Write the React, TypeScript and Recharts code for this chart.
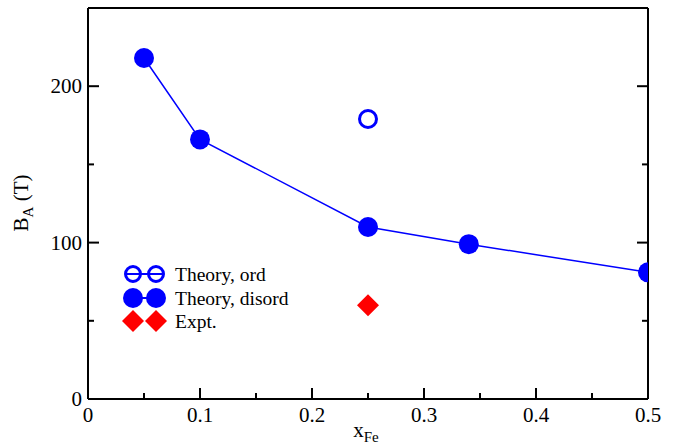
import React from "react";
import { ComposedChart, Scatter, XAxis, YAxis } from "recharts";

const xDisord = [0.05, 0.1, 0.25, 0.34, 0.5];
const bDisord = [218, 166, 110, 99, 81];
const xOrd = [0.25];
const bOrd = [179];
const xExpt = [0.25];
const bExpt = [60];

const xTicks = [0, 0.05, 0.1, 0.15, 0.2, 0.25, 0.3, 0.35, 0.4, 0.45, 0.5];
const yTicks = [0, 50, 100, 150, 200];
const legendLabels = ["Theory, ord", "Theory, disord", "Expt."];

const disordData = xDisord.map((x, i) => ({ x, y: bDisord[i] }));
const ordData = xOrd.map((x, i) => ({ x, y: bOrd[i] }));
const exptData = xExpt.map((x, i) => ({ x, y: bExpt[i] }));

const FONT = "'Liberation Serif', 'Times New Roman', serif";
const BLUE = "#0000ff";
const RED = "#ff0000";
const MAJ = 11;
const MIN = 6;

const isMajorX = (v: number) => Math.round(v * 100) % 10 === 0;
const isMajorY = (v: number) => Math.round(v) % 100 === 0;
const fmtX = (v: number) => (v === 0 ? "0" : String(Math.round(v * 10) / 10));

const BottomTick = (p: any) => {
  const v = p.payload.value;
  const major = isMajorX(v);
  return (
    <g>
      <line x1={p.x} x2={p.x} y1={p.y} y2={p.y - (major ? MAJ : MIN)} stroke="#000" strokeWidth={2} />
      {major && (
        <text x={p.x} y={p.y + 23} textAnchor="middle" fontFamily={FONT} fontSize={21} fill="#000">
          {fmtX(v)}
        </text>
      )}
    </g>
  );
};

const TopTick = (p: any) => {
  const v = p.payload.value;
  const major = isMajorX(v);
  return <line x1={p.x} x2={p.x} y1={p.y} y2={p.y + (major ? MAJ : MIN)} stroke="#000" strokeWidth={2} />;
};

const LeftTick = (p: any) => {
  const v = p.payload.value;
  const major = isMajorY(v);
  return (
    <g>
      <line x1={p.x} x2={p.x + (major ? MAJ : MIN)} y1={p.y} y2={p.y} stroke="#000" strokeWidth={2} />
      {major && (
        <text x={p.x - 6} y={p.y + 7} textAnchor="end" fontFamily={FONT} fontSize={21} fill="#000">
          {String(v)}
        </text>
      )}
    </g>
  );
};

const RightTick = (p: any) => {
  const v = p.payload.value;
  const major = isMajorY(v);
  return <line x1={p.x} x2={p.x - (major ? MAJ : MIN)} y1={p.y} y2={p.y} stroke="#000" strokeWidth={2} />;
};

const FilledCircle = (p: any) => <circle cx={p.cx} cy={p.cy} r={10} fill={BLUE} />;
const OpenCircle = (p: any) => <circle cx={p.cx} cy={p.cy} r={8.5} fill="none" stroke={BLUE} strokeWidth={3} />;
const Diamond = (p: any) => {
  const d = 11;
  return (
    <polygon
      points={`${p.cx},${p.cy - d} ${p.cx + d},${p.cy} ${p.cx},${p.cy + d} ${p.cx - d},${p.cy}`}
      fill={RED}
    />
  );
};

const YLabel = () => (
  <text
    x={28}
    y={203}
    transform="rotate(-90, 28, 203)"
    textAnchor="middle"
    fontFamily={FONT}
    fontSize={21}
    fill="#000"
  >
    B
    <tspan dy={5} fontSize={15}>A</tspan>
    <tspan dy={-5}> (T)</tspan>
  </text>
);

const XLabel = () => (
  <text x={366} y={437} textAnchor="middle" fontFamily={FONT} fontSize={21} fill="#000">
    x
    <tspan dy={5} fontSize={15}>Fe</tspan>
  </text>
);

const LegendOverlay = () => {
  const mx = [133, 156];
  const rows = [274, 298, 321];
  const d = 11;
  return (
    <svg
      width={677}
      height={448}
      style={{ position: "absolute", left: 0, top: 0, pointerEvents: "none" }}
    >
      <line x1={125} x2={164} y1={rows[0]} y2={rows[0]} stroke={BLUE} strokeWidth={2} />
      {mx.map((x) => (
        <circle key={"o" + x} cx={x} cy={rows[0]} r={7.5} fill="none" stroke={BLUE} strokeWidth={3} />
      ))}
      <line x1={mx[0]} x2={mx[1]} y1={rows[1]} y2={rows[1]} stroke={BLUE} strokeWidth={2} />
      {mx.map((x) => (
        <circle key={"f" + x} cx={x} cy={rows[1]} r={10} fill={BLUE} />
      ))}
      {mx.map((x) => (
        <polygon
          key={"d" + x}
          points={`${x},${rows[2] - d} ${x + d},${rows[2]} ${x},${rows[2] + d} ${x - d},${rows[2]}`}
          fill={RED}
        />
      ))}
      {legendLabels.map((t, i) => (
        <text key={t} x={175} y={rows[i] + 6.5} fontFamily={FONT} fontSize={19.5} fill="#000">
          {t}
        </text>
      ))}
    </svg>
  );
};

export default function App() {
  return (
    <div style={{ position: "relative", width: 677, height: 448, background: "#fff" }}>
      <style>{`body{margin:0;background:#fff;}`}</style>
      <ComposedChart width={677} height={448} margin={{ top: 0, right: 0, bottom: 0, left: 0 }}>
        <XAxis
          xAxisId="b"
          type="number"
          dataKey="x"
          domain={[0, 0.5]}
          ticks={xTicks}
          interval={0}
          height={49}
          orientation="bottom"
          axisLine={{ stroke: "#000", strokeWidth: 2 }}
          tickLine={false}
          tickSize={0}
          tickMargin={0}
          tick={<BottomTick />}
          allowDataOverflow
          label={<XLabel />}
        />
        <XAxis
          xAxisId="t"
          type="number"
          domain={[0, 0.5]}
          ticks={xTicks}
          interval={0}
          height={8}
          orientation="top"
          axisLine={{ stroke: "#000", strokeWidth: 2 }}
          tickLine={false}
          tickSize={0}
          tickMargin={0}
          tick={<TopTick />}
          allowDataOverflow
        />
        <YAxis
          yAxisId="l"
          type="number"
          dataKey="y"
          domain={[0, 250]}
          ticks={yTicks}
          interval={0}
          width={88}
          orientation="left"
          axisLine={{ stroke: "#000", strokeWidth: 2 }}
          tickLine={false}
          tickSize={0}
          tickMargin={0}
          tick={<LeftTick />}
          allowDataOverflow
          label={<YLabel />}
        />
        <YAxis
          yAxisId="r"
          type="number"
          domain={[0, 250]}
          ticks={yTicks}
          interval={0}
          width={29}
          orientation="right"
          axisLine={{ stroke: "#000", strokeWidth: 2 }}
          tickLine={false}
          tickSize={0}
          tickMargin={0}
          tick={<RightTick />}
          allowDataOverflow
        />
        <Scatter
          name="Theory, disord"
          data={disordData}
          xAxisId="b"
          yAxisId="l"
          line={{ stroke: BLUE, strokeWidth: 1.5 }}
          lineType="joint"
          shape={<FilledCircle />}
          isAnimationActive={false}
        />
        <Scatter
          name="Theory, ord"
          data={ordData}
          xAxisId="b"
          yAxisId="l"
          shape={<OpenCircle />}
          isAnimationActive={false}
        />
        <Scatter
          name="Expt."
          data={exptData}
          xAxisId="b"
          yAxisId="l"
          shape={<Diamond />}
          isAnimationActive={false}
        />
      </ComposedChart>
      <LegendOverlay />
    </div>
  );
}
